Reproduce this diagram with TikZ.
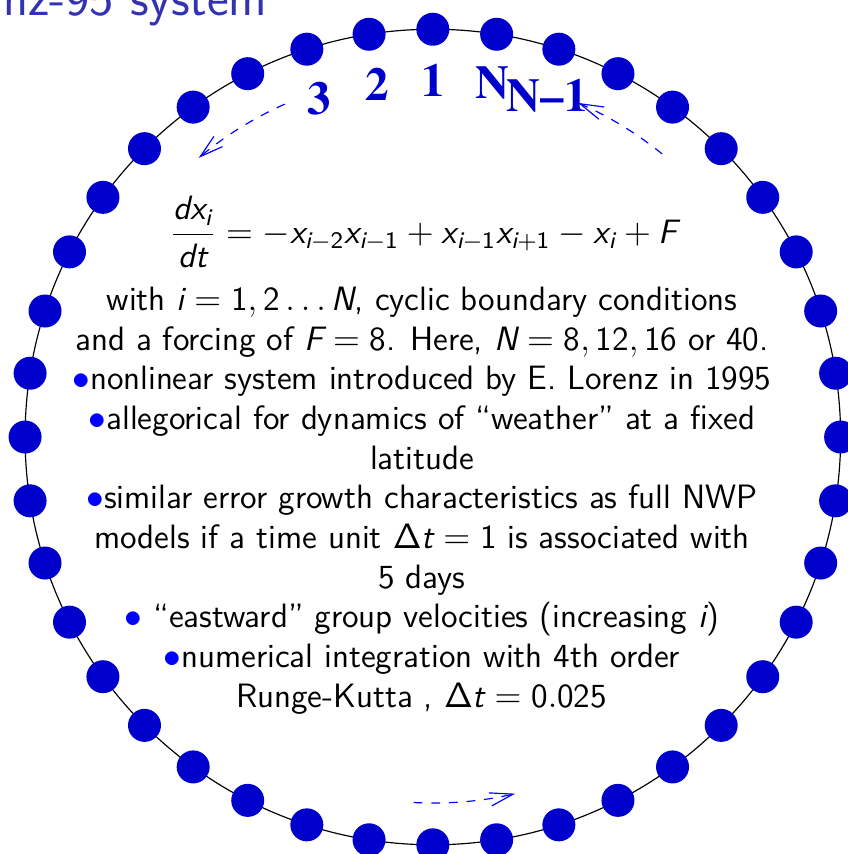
\documentclass[tikz,border=0pt]{standalone}
\usetikzlibrary{arrows.meta,positioning}
\definecolor{dotblue}{RGB}{0,0,204}
\definecolor{titleblue}{RGB}{51,51,178}
\newcommand{\blt}{{\color{blue}$\bullet$}}
\newcommand{\timesbold}{\fontencoding{OT1}\fontfamily{ptm}\bfseries}
% sans serif letters and digits in math
\DeclareSymbolFont{sfup}{TU}{lmss}{m}{n}
\DeclareSymbolFont{sfit}{TU}{lmss}{m}{sl}
\DeclareSymbolFont{sfgreek}{OT1}{cmss}{m}{n}
\DeclareMathSymbol{d}{\mathalpha}{sfit}{`d}
\DeclareMathSymbol{x}{\mathalpha}{sfit}{`x}
\DeclareMathSymbol{i}{\mathalpha}{sfit}{`i}
\DeclareMathSymbol{t}{\mathalpha}{sfit}{`t}
\DeclareMathSymbol{F}{\mathalpha}{sfit}{`F}
\DeclareMathSymbol{N}{\mathalpha}{sfit}{`N}
\DeclareMathSymbol{0}{\mathalpha}{sfup}{`0}
\DeclareMathSymbol{1}{\mathalpha}{sfup}{`1}
\DeclareMathSymbol{2}{\mathalpha}{sfup}{`2}
\DeclareMathSymbol{5}{\mathalpha}{sfup}{`5}
\DeclareMathSymbol{6}{\mathalpha}{sfup}{`6}
\DeclareMathSymbol{8}{\mathalpha}{sfup}{`8}
\DeclareMathSymbol{\Delta}{\mathalpha}{sfgreek}{"01}

\begin{document}
\begin{tikzpicture}[
    font=\sffamily,
    ring/.style={draw=black, thin},
    site/.style={circle, fill=dotblue, inner sep=0pt, minimum size=3.95mm},
    idx/.style={font=\timesbold\fontsize{16}{16}\selectfont,
                text=dotblue, inner sep=0pt},
    flow/.style={blue, dashed, -{Straight Barb[length=2.8mm, width=1.6mm]}},
    body/.style={align=center, inner sep=0pt,
                 font=\sffamily\fontsize{11.5}{13.5}\selectfont}
]
\useasboundingbox (-51.8mm,-49.9mm) rectangle (49.6mm,52.3mm);

\node[font=\sffamily\fontsize{17.6}{19}\selectfont, text=titleblue,
      anchor=base west, inner sep=0pt] (title) at (-51.5mm,50.5mm) {nz-95 system};

% ring of grid points
\draw[ring] (0,0) circle (48.8mm);
\foreach \i in {1,...,40}
    \node[site] (d\i) at ({90+9*(\i-1)}:48.8mm) {};

% indices
\node[idx] (i1) at (90:42.7mm) {1};
\node[idx] (i2) at (99:42.7mm) {2};
\node[idx] (i3) at (108.5:42.7mm) {3};
\node[idx] (iN) at (80.5:42.9mm) {N};
\node[idx] (iNm) at (71.5:43.1mm) {N--1};

% direction of propagation
\coordinate (fl1) at (114:43.6mm);
\coordinate (fr1) at (51:43.6mm);
\coordinate (fb1) at (267:43.8mm);
\draw[flow] (fl1) arc[start angle=114, end angle=130, radius=43.6mm];
\draw[flow] (fr1) arc[start angle=51, end angle=66.5, radius=43.6mm];
\draw[flow] (fb1) arc[start angle=267, end angle=283, radius=43.8mm];

\node[body] (eq) at (-1.1mm,24.5mm)
    {$\displaystyle \frac{dx_i}{dt} = -x_{i-2}x_{i-1} + x_{i-1}x_{i+1} - x_i + F$};
\node[body] (text) at (-1.3mm,-7.6mm)
    {with $i=1,2\ldots N$, cyclic boundary conditions\\
     and a forcing of $F=8$. Here, $N=8,12,16$ or 40.\\
     \blt nonlinear system introduced by E. Lorenz in 1995\\
     \blt allegorical for dynamics of “weather” at a fixed\\
     latitude\\
     \blt similar error growth characteristics as full NWP\\
     models if a time unit $\Delta t=1$ is associated with\\
     5 days\\
     \blt\ “eastward” group velocities (increasing $i$)\\
     \blt numerical integration with 4th order\\
     Runge-Kutta , $\Delta t=0.025$};
\end{tikzpicture}
\end{document}
